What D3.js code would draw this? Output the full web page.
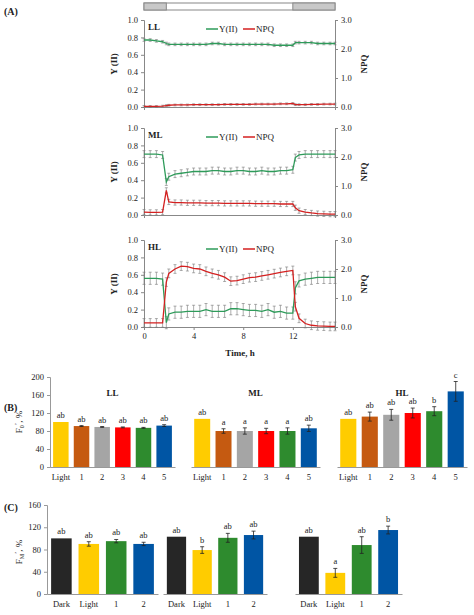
<!DOCTYPE html>
<html><head><meta charset="utf-8">
<script src="https://cdn.jsdelivr.net/npm/d3@7"></script>
<style>body{margin:0;background:#fff}text{font-family:"Liberation Serif",serif;fill:#222}</style>
</head><body><svg width="474" height="615"></svg>
<script>
// time points (h) shared by all series
var times = [0,0.5,1,1.5,1.8,2,2.5,3,3.5,4,4.5,5,5.5,6,6.5,7,7.5,8,8.5,9,9.5,10,10.5,11,11.5,12,12.2,12.5,13,13.5,14,14.5,15,15.4];
var llY   = [0.77,0.77,0.76,0.75,0.73,0.72,0.72,0.72,0.72,0.72,0.72,0.72,0.73,0.73,0.72,0.72,0.72,0.72,0.72,0.72,0.72,0.72,0.71,0.71,0.71,0.71,0.74,0.74,0.74,0.74,0.73,0.73,0.73,0.73];
var llN   = [0.02,0.02,0.02,0.03,0.05,0.06,0.07,0.07,0.07,0.08,0.08,0.08,0.08,0.08,0.09,0.09,0.09,0.09,0.09,0.10,0.10,0.10,0.10,0.11,0.11,0.12,0.08,0.08,0.08,0.09,0.09,0.10,0.10,0.10];
var mlY   = [0.70,0.70,0.70,0.69,0.38,0.44,0.47,0.48,0.49,0.50,0.50,0.50,0.51,0.51,0.50,0.50,0.51,0.51,0.50,0.50,0.51,0.50,0.50,0.51,0.51,0.52,0.66,0.69,0.70,0.70,0.70,0.70,0.70,0.70];
var mlN   = [0.10,0.09,0.09,0.10,0.85,0.45,0.43,0.43,0.42,0.42,0.42,0.41,0.41,0.41,0.40,0.40,0.40,0.40,0.40,0.39,0.39,0.39,0.39,0.38,0.38,0.38,0.25,0.15,0.10,0.07,0.05,0.04,0.03,0.03];
var hlY   = [0.56,0.56,0.56,0.55,0.05,0.15,0.17,0.17,0.18,0.18,0.18,0.20,0.18,0.18,0.18,0.21,0.21,0.20,0.19,0.19,0.18,0.20,0.17,0.18,0.16,0.16,0.45,0.53,0.55,0.56,0.57,0.57,0.57,0.57];
var hlN   = [0.14,0.14,0.14,0.14,1.55,1.85,2.00,2.10,2.08,2.02,2.00,1.92,1.85,1.80,1.72,1.58,1.60,1.65,1.70,1.72,1.76,1.80,1.84,1.88,1.92,1.95,0.70,0.30,0.12,0.06,0.04,0.03,0.02,0.02];
var yErr  = [0.015, 0.04, 0.07];
var nErr  = [0.01, 0.03, 0.05];

var bCats = ["Light","1","2","3","4","5"];
var bColors = ["#ffcc00","#c55a11","#a5a5a5","#ff0000","#2e8b2e","#0055a4"];
var bVals = [[100,91,89,88,87,92],[107,80,80,80,80,86],[107,112,116,120,124,168]];
var bErrs = [[0,1,1,1,1,2],[0,5,7,6,7,7],[0,10,12,11,10,22]];
var bLetters = [["ab","ab","ab","ab","ab","ab"],["ab","a","a","a","a","ab"],["ab","ab","ab","ab","b","c"]];
var cCats = ["Dark","Light","1","2"];
var cColors = ["#262626","#ffcc00","#2e8b2e","#0055a4"];
var cVals = [[100,90,95,90],[103,79,101,106],[103,38,88,115]];
var cErrs = [[0,4,3,3],[0,6,8,7],[0,8,15,7]];
var cLetters = [["ab","ab","ab","ab"],["ab","b","ab","ab"],["ab","a","ab","b"]];
var panelNames = ["LL","ML","HL"];

var svg = d3.select("svg");
var x = d3.scaleLinear().domain([0,15.4]).range([144,335]);

// light/dark bar at top
svg.append("rect").attr("x",x(0)).attr("y",3).attr("width",x(15.4)-x(0)).attr("height",7).attr("fill","#fff").attr("stroke","#888");
[[0,1.8],[12,15.4]].forEach(function(d){
	svg.append("rect").attr("x",x(d[0])).attr("y",3).attr("width",x(d[1])-x(d[0])).attr("height",7).attr("fill","#c8c8c8").attr("stroke","#888");
});
svg.append("text").attr("x",4).attr("y",15).attr("font-size",10).attr("font-weight","bold").text("(A)");

var series = [[llY,llN],[mlY,mlN],[hlY,hlN]];
var tops = [20,128,240];
series.forEach(function(s,i){
	var y = d3.scaleLinear().domain([0,1]).range([tops[i]+87,tops[i]]);
	var yr = d3.scaleLinear().domain([0,3]).range([tops[i]+87,tops[i]]);
	var g = svg.append("g");
	g.append("g").attr("transform","translate("+x(0)+",0)")
		.call(d3.axisLeft(y).tickValues([0,0.2,0.4,0.6,0.8,1]).tickFormat(d3.format(".1f")).tickSize(3))
		.call(a=>a.selectAll("text").attr("font-size",8.5));
	g.append("g").attr("transform","translate("+x(15.4)+",0)")
		.call(d3.axisRight(yr).tickValues([0,1,2,3]).tickFormat(d3.format(".1f")).tickSize(3))
		.call(a=>a.selectAll("text").attr("font-size",8.5));
	var xa = g.append("g").attr("transform","translate(0,"+y(0)+")")
		.call(d3.axisBottom(x).tickValues(i==2?[0,4,8,12]:[]).tickSize(3).tickFormat(d3.format("d")));
	xa.selectAll("text").attr("font-size",8.5);
	g.selectAll(".domain,.tick line").attr("stroke","#888");
	g.append("text").attr("transform","translate(117,"+(tops[i]+44)+") rotate(-90)").attr("text-anchor","middle").attr("font-size",9).attr("font-weight","bold").text("Y (II)");
	g.append("text").attr("transform","translate(367,"+(tops[i]+44)+") rotate(-90)").attr("text-anchor","middle").attr("font-size",9).attr("font-weight","bold").text("NPQ");
	g.append("text").attr("x",148).attr("y",tops[i]+10).attr("font-size",9).attr("font-weight","bold").text(panelNames[i]);
	// legend
	g.append("line").attr("x1",206).attr("x2",218).attr("y1",tops[i]+9).attr("y2",tops[i]+9).attr("stroke","#2e9b5a").attr("stroke-width",1.5);
	g.append("text").attr("x",219).attr("y",tops[i]+12).attr("font-size",9).text("Y(II)");
	g.append("line").attr("x1",243).attr("x2",255).attr("y1",tops[i]+9).attr("y2",tops[i]+9).attr("stroke","#d42020").attr("stroke-width",1.5);
	g.append("text").attr("x",256).attr("y",tops[i]+12).attr("font-size",9).text("NPQ");
	[[s[0],y,yErr[i],"#2e9b5a"],[s[1],yr,nErr[i]*3,"#d42020"]].forEach(function(e){
		var vals=e[0], sc=e[1], er=e[2];
		g.selectAll(null).data(vals).enter().append("path")
			.attr("d",(d,j)=>"M"+x(times[j])+","+sc(d-er)+"V"+sc(d+er)+"M"+(x(times[j])-1.5)+","+sc(d-er)+"h3M"+(x(times[j])-1.5)+","+sc(d+er)+"h3")
			.attr("stroke","#777").attr("stroke-width",0.6);
		g.append("path").datum(vals).attr("fill","none").attr("stroke",e[3]).attr("stroke-width",1.3)
			.attr("d",d3.line().x((d,j)=>x(times[j])).y(d=>sc(d)));
	});
});
svg.append("text").attr("x",240).attr("y",356).attr("text-anchor","middle").attr("font-size",9).attr("font-weight","bold").text("Time, h");

function barPanel(cats,colors,vals,errs,letters,x0,x1,y,ticks,title){
	var bx = d3.scaleBand().domain(cats).range([x0,x1]).paddingInner(0.25).paddingOuter(0.15);
	var rows = vals.map((v,j)=>({c:cats[j],v:v,e:errs[j],l:letters[j],col:colors[j]}));
	var g = svg.append("g");
	if(ticks){
		g.append("g").attr("transform","translate("+x0+",0)").call(d3.axisLeft(y).tickValues(ticks).tickSize(3))
			.call(a=>a.selectAll("text").attr("font-size",8.5));
	}
	g.append("g").attr("transform","translate(0,"+y(0)+")").call(d3.axisBottom(bx).tickSize(0).tickPadding(7))
		.call(a=>a.selectAll("text").attr("font-size",8.5));
	g.selectAll(".domain,.tick line").attr("stroke","#999");
	g.selectAll(null).data(rows).enter().append("rect")
		.attr("x",d=>bx(d.c)).attr("width",bx.bandwidth()).attr("y",d=>y(d.v)).attr("height",d=>y(0)-y(d.v)).attr("fill",d=>d.col);
	g.selectAll(null).data(rows.filter(d=>d.e>0)).enter().append("path")
		.attr("d",function(d){var c=bx(d.c)+bx.bandwidth()/2;
			return "M"+c+","+y(d.v-d.e)+"V"+y(d.v+d.e)+"M"+(c-2)+","+y(d.v-d.e)+"h4M"+(c-2)+","+y(d.v+d.e)+"h4";})
		.attr("stroke","#222").attr("fill","none").attr("stroke-width",0.8);
	g.selectAll(null).data(rows).enter().append("text")
		.attr("x",d=>bx(d.c)+bx.bandwidth()/2).attr("y",d=>y(d.v+d.e)-4)
		.attr("text-anchor","middle").attr("font-size",8.5).text(d=>d.l);
	if(title) g.append("text").attr("x",(x0+x1)/2).attr("y",396).attr("text-anchor","middle").attr("font-size",9).attr("font-weight","bold").text(title);
}

var yB = d3.scaleLinear().domain([0,200]).range([467,377]);
var bx = [[50,175],[191,320],[337,467]];
bx.forEach(function(p,i){ barPanel(bCats,bColors,bVals[i],bErrs[i],bLetters[i],p[0],p[1],yB,i==0?[0,40,80,120,160,200]:null,panelNames[i]); });
svg.append("text").attr("x",4).attr("y",411).attr("font-size",10).attr("font-weight","bold").text("(B)");
svg.append("text").attr("transform","translate(22,422) rotate(-90)").attr("text-anchor","middle").attr("font-size",9)
	.html('F<tspan dy="2" font-size="6">0</tspan><tspan dy="-5" font-size="7">\u2019</tspan><tspan dy="3">, %</tspan>');

var yC = d3.scaleLinear().domain([0,160]).range([594,505]);
var cx = [[47,158],[163,267],[295,402]];
cx.forEach(function(p,i){ barPanel(cCats,cColors,cVals[i],cErrs[i],cLetters[i],p[0],p[1],yC,i==0?[0,40,80,120,160]:null,null); });
svg.append("text").attr("x",4).attr("y",511).attr("font-size",10).attr("font-weight","bold").text("(C)");
svg.append("text").attr("transform","translate(22,552) rotate(-90)").attr("text-anchor","middle").attr("font-size",9)
	.html('F<tspan dy="2" font-size="6">M</tspan><tspan dy="-5" font-size="7">\u2019</tspan><tspan dy="3">, %</tspan>');
</script></body></html>
